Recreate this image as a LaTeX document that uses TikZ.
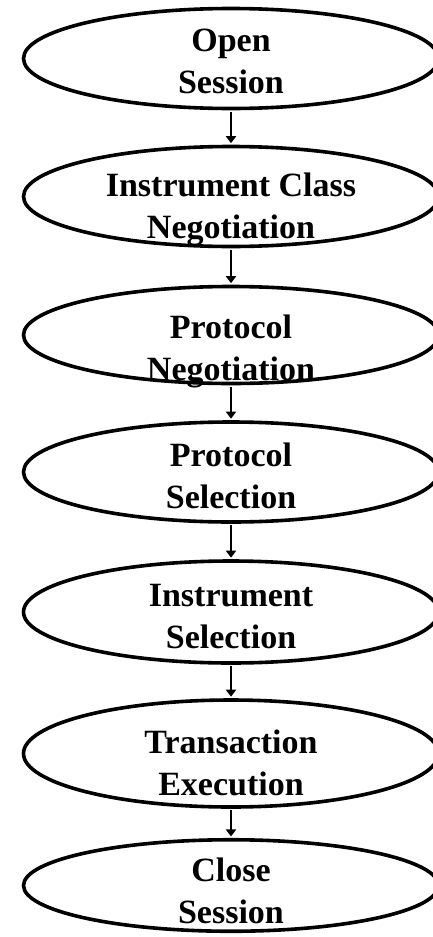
\documentclass[tikz,border=0pt]{standalone}
\usepackage{fontspec}
\setmainfont{Liberation Serif}
\usetikzlibrary{shapes.geometric,arrows.meta}
\tikzset{
  ell/.style={ellipse, draw=black, line width=3.6pt, inner sep=0pt, minimum width=415pt},
  lbl/.style={align=center, inner sep=0pt, anchor=north, font=\bfseries\fontsize{34}{42}\selectfont},
  flow/.style={line width=2.4pt, -{Triangle[width=10pt,length=7pt]}, shorten >=1.5pt, shorten <=1.5pt}
}
\begin{document}
\begin{tikzpicture}[x=1pt,y=-1pt]
\useasboundingbox (0,0) rectangle (432,937);
\node[ell, minimum height=100pt] (e1) at (231,58.5) {};
\node[ell, minimum height=100pt] (e2) at (231,196.5) {};
\node[ell, minimum height=97pt]  (e3) at (231,335) {};
\node[ell, minimum height=100pt] (e4) at (231,472) {};
\node[ell, minimum height=102pt] (e5) at (231,612) {};
\node[ell, minimum height=107pt] (e6) at (231,753.5) {};
\node[ell, minimum height=91.5pt] (e7) at (231,885.5) {};
\node[lbl] (t1) at (231,28.5) {Open\\Session};
\node[lbl] (t2) at (231,172.5) {Instrument Class\\Negotiation};
\node[lbl] (t3) at (231,314.5) {Protocol\\Negotiation};
\node[lbl] (t4) at (231,442.5) {Protocol\\Selection};
\node[lbl] (t5) at (231,584.5) {Instrument\\Selection};
\node[lbl] (t6) at (231,729.5) {Transaction\\Execution};
\node[lbl] (t7) at (231,857.5) {Close\\Session};
\draw[flow] (e1.south) -- (e2.north);
\draw[flow] (e2.south) -- (e3.north);
\draw[flow] (e3.south) -- (e4.north);
\draw[flow] (e4.south) -- (e5.north);
\draw[flow] (e5.south) -- (e6.north);
\draw[flow] (e6.south) -- (e7.north);
\end{tikzpicture}
\end{document}
